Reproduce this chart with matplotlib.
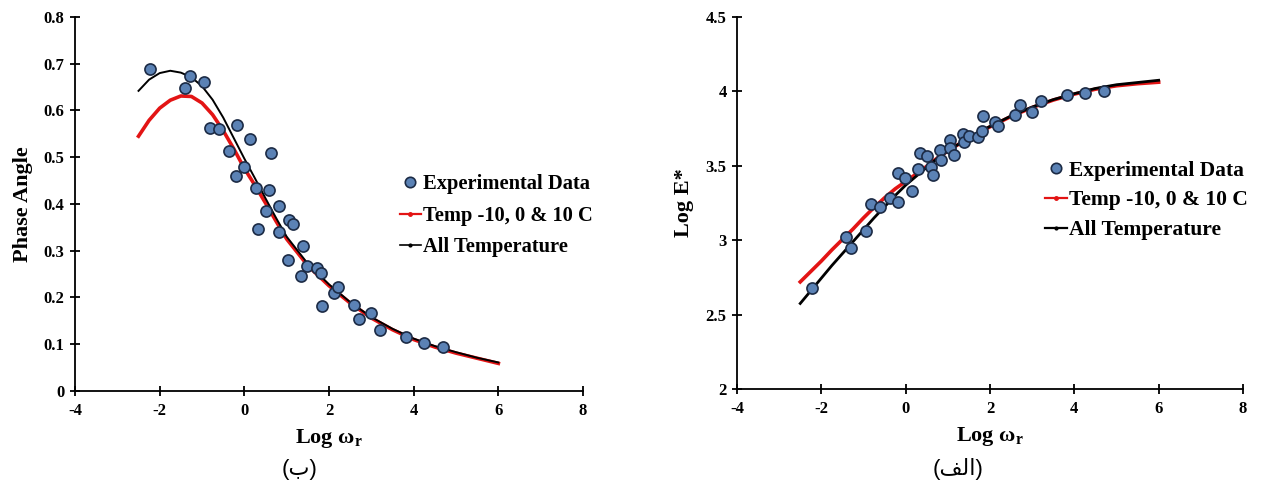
import matplotlib
matplotlib.use("Agg")
import matplotlib.pyplot as plt
from matplotlib.lines import Line2D

plt.rcParams['font.family'] = ['Liberation Serif', 'DejaVu Serif']
plt.rcParams['font.weight'] = 'bold'
plt.rcParams['axes.unicode_minus'] = False
plt.rcParams['mathtext.fontset'] = 'custom'
plt.rcParams['mathtext.rm'] = 'Liberation Serif:bold'
plt.rcParams['mathtext.it'] = 'Liberation Serif:bold'
plt.rcParams['mathtext.bf'] = 'Liberation Serif:bold'

# --- Phase angle (left, "(ب)") ---
phase_x = [-2.22, -1.40, -1.29, -0.95, -0.82, -0.60, -0.37, -0.19, -0.17, -0.02,
           0.14, 0.275, 0.33, 0.50, 0.575, 0.64, 0.81, 0.83, 1.03, 1.05,
           1.15, 1.34, 1.38, 1.48, 1.71, 1.81, 1.83, 2.12, 2.22, 2.58,
           2.71, 2.98, 3.21, 3.82, 4.24, 4.69]
phase_y = [0.688, 0.648, 0.674, 0.660, 0.562, 0.560, 0.513, 0.460, 0.569, 0.480,
           0.540, 0.435, 0.346, 0.385, 0.429, 0.510, 0.340, 0.395, 0.280, 0.365,
           0.358, 0.247, 0.310, 0.267, 0.263, 0.253, 0.182, 0.209, 0.223, 0.184,
           0.153, 0.167, 0.131, 0.115, 0.103, 0.094]

# --- Log E* (right, "(الف)") ---
mod_x = [-2.22, -1.41, -1.30, -0.95, -0.82, -0.60, -0.36, -0.17, -0.19, -0.02,
         0.14, 0.29, 0.33, 0.51, 0.59, 0.65, 0.81, 0.85, 1.04, 1.06,
         1.15, 1.35, 1.38, 1.51, 1.71, 1.81, 1.84, 2.13, 2.20, 2.59,
         2.71, 2.99, 3.20, 3.83, 4.25, 4.70]
mod_y = [2.679, 3.020, 2.951, 3.063, 3.243, 3.223, 3.283, 3.257, 3.449, 3.415,
         3.328, 3.482, 3.583, 3.565, 3.493, 3.440, 3.607, 3.538, 3.674, 3.623,
         3.576, 3.712, 3.658, 3.701, 3.692, 3.737, 3.835, 3.797, 3.766, 3.839,
         3.906, 3.862, 3.935, 3.973, 3.991, 4.002]

# model curves
curve_x = [-2.5, -2.25, -2.0, -1.75, -1.5, -1.25, -1.0, -0.75, -0.5, -0.25,
           0.0, 0.25, 0.5, 0.75, 1.0, 1.5, 2.0, 2.5, 3.0, 3.5,
           4.0, 4.5, 5.0, 5.5, 6.0]
phase_all = [0.642, 0.666, 0.680, 0.685, 0.681, 0.671, 0.652, 0.623, 0.585, 0.541,
             0.497, 0.455, 0.412, 0.370, 0.330, 0.272, 0.228, 0.190, 0.158, 0.133,
             0.112, 0.096, 0.083, 0.071, 0.061]
phase_3t = [0.545, 0.579, 0.605, 0.622, 0.631, 0.630, 0.616, 0.591, 0.557, 0.518,
            0.476, 0.440, 0.402, 0.363, 0.325, 0.268, 0.225, 0.188, 0.156, 0.131,
            0.110, 0.094, 0.081, 0.070, 0.059]
mod_all = [2.575, 2.660, 2.745, 2.830, 2.910, 2.990, 3.070, 3.150, 3.225, 3.300,
           3.370, 3.430, 3.490, 3.550, 3.600, 3.690, 3.765, 3.835, 3.895, 3.945,
           3.985, 4.020, 4.045, 4.060, 4.075]
mod_3t = [2.720, 2.790, 2.860, 2.935, 3.005, 3.075, 3.150, 3.220, 3.285, 3.345,
          3.395, 3.445, 3.497, 3.552, 3.600, 3.688, 3.762, 3.832, 3.892, 3.942,
          3.982, 4.015, 4.038, 4.052, 4.062]

xticks = [-4, -2, 0, 2, 4, 6, 8]
labels = ['Experimental Data', 'Temp -10, 0 & 10 C', 'All Temperature']
dot_face = '#5b82b5'
dot_edge = '#1c2b45'
red = '#e31414'

fig = plt.figure(figsize=(12.65, 4.91), dpi=100)
ax1 = fig.add_axes([0.0593, 0.2037, 0.4016, 0.7617])
ax2 = fig.add_axes([0.5826, 0.2077, 0.4000, 0.7576])


def style(ax, ylim, yticks, yfmt):
    ax.set_xlim(-4, 8)
    ax.set_ylim(*ylim)
    ax.set_xticks(xticks)
    ax.set_yticks(yticks)
    ax.set_yticklabels([yfmt(v) for v in yticks])
    for s in ['top', 'right']:
        ax.spines[s].set_visible(False)
    for s in ['left', 'bottom']:
        ax.spines[s].set_linewidth(1.3)
    ax.tick_params(direction='inout', length=7, width=1.3, labelsize=12)
    ax.tick_params(axis='x', pad=5)
    ax.tick_params(axis='y', pad=4)
    for lab in ax.get_xticklabels() + ax.get_yticklabels():
        lab.set_fontweight('bold')
    ax.set_xlabel(r'Log $\mathrm{\omega}_\mathrm{r}$', fontsize=16, fontweight='bold', labelpad=6)


def legend_handles(black_lw):
    return [Line2D([], [], ls='none', marker='o', ms=7.5, mfc=dot_face, mec=dot_edge, mew=1.2),
            Line2D([], [], color=red, lw=1.6, marker='o', ms=2.5),
            Line2D([], [], color='black', lw=black_lw, marker='o', ms=2.0)]


# left chart
ax1.plot(phase_x, phase_y, 'o', ms=8, mfc=dot_face, mec=dot_edge, mew=1.2, zorder=3)
ax1.plot(curve_x, phase_3t, '-', color=red, lw=2.6, zorder=2)
ax1.plot(curve_x, phase_all, '-', color='black', lw=1.4, zorder=2)
style(ax1, (0, 0.8), [0, 0.1, 0.2, 0.3, 0.4, 0.5, 0.6, 0.7, 0.8],
      lambda v: '0' if v == 0 else f'{v:.1f}')
ax1.set_ylabel('Phase Angle', fontsize=16, fontweight='bold', labelpad=8)
ax1.legend(legend_handles(1.2), labels, loc='upper left', bbox_to_anchor=(0.640, 0.580),
           frameon=False, fontsize=14.8, handlelength=1.0, handletextpad=0.1,
           labelspacing=0.57, borderpad=0, borderaxespad=0)

# right chart
ax2.plot(mod_x, mod_y, 'o', ms=8, mfc=dot_face, mec=dot_edge, mew=1.2, zorder=3)
ax2.plot(curve_x, mod_3t, '-', color=red, lw=2.6, zorder=2)
ax2.plot(curve_x, mod_all, '-', color='black', lw=2.0, zorder=2)
style(ax2, (2, 4.5), [2, 2.5, 3, 3.5, 4, 4.5],
      lambda v: f'{v:g}')
ax2.set_ylabel('Log E*', fontsize=16, fontweight='bold', labelpad=8)
ax2.legend(legend_handles(1.6), labels, loc='upper left', bbox_to_anchor=(0.609, 0.614),
           frameon=False, fontsize=15.5, handlelength=1.0, handletextpad=0.1,
           labelspacing=0.45, borderpad=0, borderaxespad=0)

# captions
cap_font = ['Liberation Sans', 'DejaVu Sans']
fig.text(300 / 1265, 1 - 469 / 491, '(\u0628)', ha='center', va='center',
         fontsize=16, family=cap_font, fontweight='normal')
fig.text(958 / 1265, 1 - 469 / 491, '(\ufed2\ufedf\ufe8d)', ha='center', va='center',
         fontsize=16, family=cap_font, fontweight='normal')

fig.savefig('out.png', dpi=100)
